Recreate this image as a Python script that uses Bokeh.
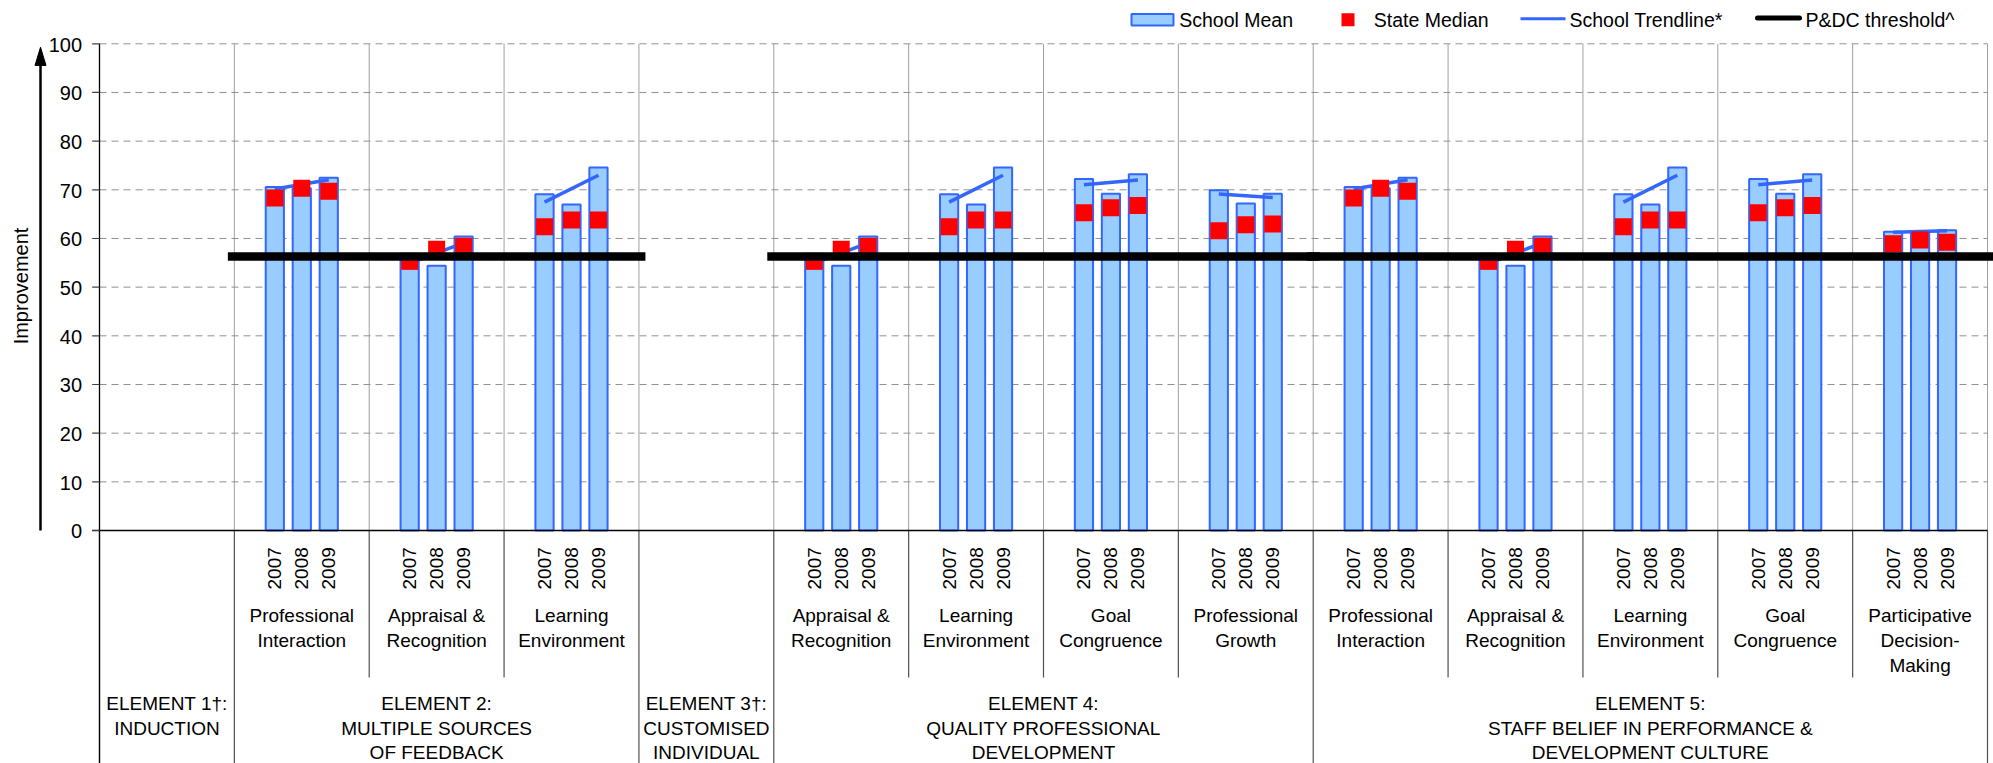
import numpy as np
from bokeh.plotting import figure
from bokeh.models import Range1d
from bokeh.core.properties import value
from bokeh.embed import file_html
from bokeh.resources import INLINE

# ---------------- data ----------------
categories = ["", "Professional\nInteraction", "Appraisal &\nRecognition", "Learning\nEnvironment", "",
              "Appraisal &\nRecognition", "Learning\nEnvironment", "Goal\nCongruence", "Professional\nGrowth",
              "Professional\nInteraction", "Appraisal &\nRecognition", "Learning\nEnvironment",
              "Goal\nCongruence", "Participative\nDecision-\nMaking"]
elements = ["ELEMENT 1\u2020:\nINDUCTION",
            "ELEMENT 2:\nMULTIPLE SOURCES\nOF FEEDBACK",
            "ELEMENT 3\u2020:\nCUSTOMISED\nINDIVIDUAL",
            "ELEMENT 4:\nQUALITY PROFESSIONAL\nDEVELOPMENT",
            "ELEMENT 5:\nSTAFF BELIEF IN PERFORMANCE &\nDEVELOPMENT CULTURE"]
element_spans = [1, 3, 1, 4, 5]
years = ["2007", "2008", "2009"]

school_mean_2007 = [None, 70.6, 56.2, 69.1, None, 56.2, 69.1, 72.2, 69.9, 70.6, 56.2, 69.1, 72.2, 61.4]
school_mean_2008 = [None, 70.3, 54.4, 67.0, None, 54.4, 67.0, 69.2, 67.2, 70.3, 54.4, 67.0, 69.2, 61.2]
school_mean_2009 = [None, 72.5, 60.4, 74.6, None, 60.4, 74.6, 73.2, 69.2, 72.5, 60.4, 74.6, 73.2, 61.7]

state_median_2007 = [None, 68.3, 55.3, 62.4, None, 55.3, 62.4, 65.3, 61.6, 68.3, 55.3, 62.4, 65.3, 58.9]
state_median_2008 = [None, 70.3, 57.8, 63.8, None, 57.8, 63.8, 66.3, 62.8, 70.3, 57.8, 63.8, 66.3, 59.7]
state_median_2009 = [None, 69.7, 58.4, 63.8, None, 58.4, 63.8, 66.8, 63.0, 69.7, 58.4, 63.8, 66.8, 59.2]

threshold_value = 56.3
y_ticks = list(range(0, 101, 10))

legend_labels = ["School Mean", "State Median", "School Trendline*", "P&DC threshold^"]

# ---------------- layout (screen pixels) ----------------
FIG_X, FIG_Y, FIG_W, FIG_H = 0, 0, 1993, 763
PLOT_LEFT, PLOT_RIGHT = 99.0, 1987.0
ZERO_Y, HUNDRED_Y = 530.0, 43.3
N = len(categories)
CW = (PLOT_RIGHT - PLOT_LEFT) / N
K = (ZERO_Y - HUNDRED_Y) / 100.0


def dx(sx):
    return (sx - PLOT_LEFT) / CW


def dy(sy):
    return (ZERO_Y - sy) / K


def pxw(n):
    return n / CW


def pxh(n):
    return n / K


FONT = value("Liberation Sans")
BOTTOM = dy(FIG_Y + FIG_H)

p = figure(width=FIG_W, height=FIG_H,
           x_range=Range1d(dx(FIG_X), dx(FIG_X + FIG_W)),
           y_range=Range1d(BOTTOM, dy(FIG_Y)),
           output_backend="svg", toolbar_location=None,
           x_axis_type=None, y_axis_type=None, min_border=0)
p.outline_line_color = None
p.grid.visible = False
p.background_fill_color = "white"
p.border_fill_color = "white"

# ---------------- grid ----------------
inner = list(range(1, N + 1))
p.segment(x0=inner, y0=[0] * len(inner), x1=inner, y1=[100] * len(inner),
          line_color="#a0a0a0", line_width=1)
hg = [t for t in y_ticks if t > 0]
p.segment(x0=[0] * len(hg), y0=hg, x1=[N] * len(hg), y1=hg,
          line_color="#909090", line_width=1, line_dash="7 5")

elem_bounds = list(np.cumsum([0] + element_spans))
sub_bounds = [b for b in range(N + 1) if b not in elem_bounds]
p.segment(x0=elem_bounds, y0=[0] * len(elem_bounds), x1=elem_bounds, y1=[BOTTOM] * len(elem_bounds),
          line_color="#505050", line_width=1.2)
p.segment(x0=sub_bounds, y0=[0] * len(sub_bounds), x1=sub_bounds, y1=[dy(677)] * len(sub_bounds),
          line_color="#505050", line_width=1.2)

# ---------------- bars ----------------
BAR_OFF = 0.2
BAR_W = 0.135
means = [school_mean_2007, school_mean_2008, school_mean_2009]
medians = [state_median_2007, state_median_2008, state_median_2009]

bx, btop, mx, my, yl_x, yl_t = [], [], [], [], [], []
tx, ty = [], []
for i in range(N):
    if means[0][i] is None:
        continue
    c = i + 0.5
    vals = []
    for j in range(3):
        x = c + (j - 1) * BAR_OFF
        bx.append(x)
        btop.append(means[j][i])
        mx.append(x)
        my.append(medians[j][i])
        yl_x.append(x)
        yl_t.append(years[j])
        vals.append(means[j][i])
    slope, icpt = np.polyfit([0, 1, 2], vals, 1)
    tx.append([c - BAR_OFF, c + BAR_OFF])
    ty.append([icpt, icpt + 2 * slope])

p.vbar(x=bx, top=btop, bottom=0, width=BAR_W, fill_color="#99ccff",
       line_color="#3366ff", line_width=2)
p.multi_line(xs=tx, ys=ty, line_color="#3366ff", line_width=3.5)
p.scatter(x=mx, y=my, marker="square", size=17, fill_color="#ff0000", line_color=None)

ext = pxw(6.5)
start = 0
for span in element_spans:
    has = any(means[0][k] is not None for k in range(start, start + span))
    if has:
        x1 = start + span + ext
        if start + span == N:
            x1 = dx(FIG_X + FIG_W) + 1
        p.line([start - ext, x1], [threshold_value, threshold_value],
               line_color="black", line_width=8.5)
    start += span

# ---------------- axes ----------------
p.line([0, 0], [100, BOTTOM], line_color="black", line_width=1.3)
p.line([dx(91.7), N], [0, 0], line_color="black", line_width=1.5)
p.segment(x0=[dx(91.7)] * len(y_ticks), y0=y_ticks, x1=[0] * len(y_ticks), y1=y_ticks,
          line_color="#404040", line_width=1.2)
p.text(x=[dx(81.5)] * len(y_ticks), y=[t - pxh(0.7) for t in y_ticks], text=[str(t) for t in y_ticks],
       text_font=FONT, text_font_size="20px", text_align="right", text_baseline="middle",
       text_color="black")

p.line([dx(40), dx(40)], [0, dy(62)], line_color="black", line_width=2.5)
p.patch([dx(40), dx(34.5), dx(45.5)], [dy(46.7), dy(65), dy(65)], fill_color="black", line_color="black")
p.text(x=[dx(20)], y=[dy(285.5)], text=["Improvement"], angle=np.pi / 2,
       text_font=FONT, text_font_size="20px", text_align="center", text_baseline="middle",
       text_color="black")

p.text(x=yl_x, y=[dy(589)] * len(yl_x), text=yl_t, angle=np.pi / 2,
       text_font=FONT, text_font_size="19px", text_align="left", text_baseline="middle",
       text_color="black")

sl_x, sl_y, sl_t = [], [], []
sub_mid = [614.7, 639.7, 664.7]
for i, lab in enumerate(categories):
    if not lab:
        continue
    for k, line in enumerate(lab.split("\n")):
        sl_x.append(i + 0.5)
        sl_y.append(dy(sub_mid[k]))
        sl_t.append(line)
p.text(x=sl_x, y=sl_y, text=sl_t, text_font=FONT, text_font_size="19px",
       text_align="center", text_baseline="middle", text_color="black")

el_x, el_y, el_t = [], [], []
el_mid = [702.5, 727.5, 751.5]
start = 0
for lab, span in zip(elements, element_spans):
    for k, line in enumerate(lab.split("\n")):
        el_x.append(start + span / 2)
        el_y.append(dy(el_mid[k]))
        el_t.append(line)
    start += span
p.text(x=el_x, y=el_y, text=el_t, text_font=FONT, text_font_size="19px",
       text_align="center", text_baseline="middle", text_color="black")

# ---------------- legend ----------------
p.quad(left=[dx(1131)], right=[dx(1173)], top=[dy(13.5)], bottom=[dy(25)],
       fill_color="#99ccff", line_color="#3366ff", line_width=2)
p.scatter(x=[dx(1347.5)], y=[dy(19.3)], marker="square", size=13, fill_color="#ff0000", line_color=None)
p.line([dx(1520), dx(1565)], [dy(18.3)] * 2, line_color="#3366ff", line_width=3)
p.line([dx(1757), dx(1799)], [dy(17.5)] * 2, line_color="black", line_width=5, line_cap="round")
p.text(x=[dx(1178.7), dx(1373.3), dx(1569), dx(1805)], y=[dy(19.2)] * 4, text=legend_labels,
       text_font=FONT, text_font_size="19.5px", text_align="left", text_baseline="middle",
       text_color="black")

open("out.html", "w").write(file_html(p, INLINE))
